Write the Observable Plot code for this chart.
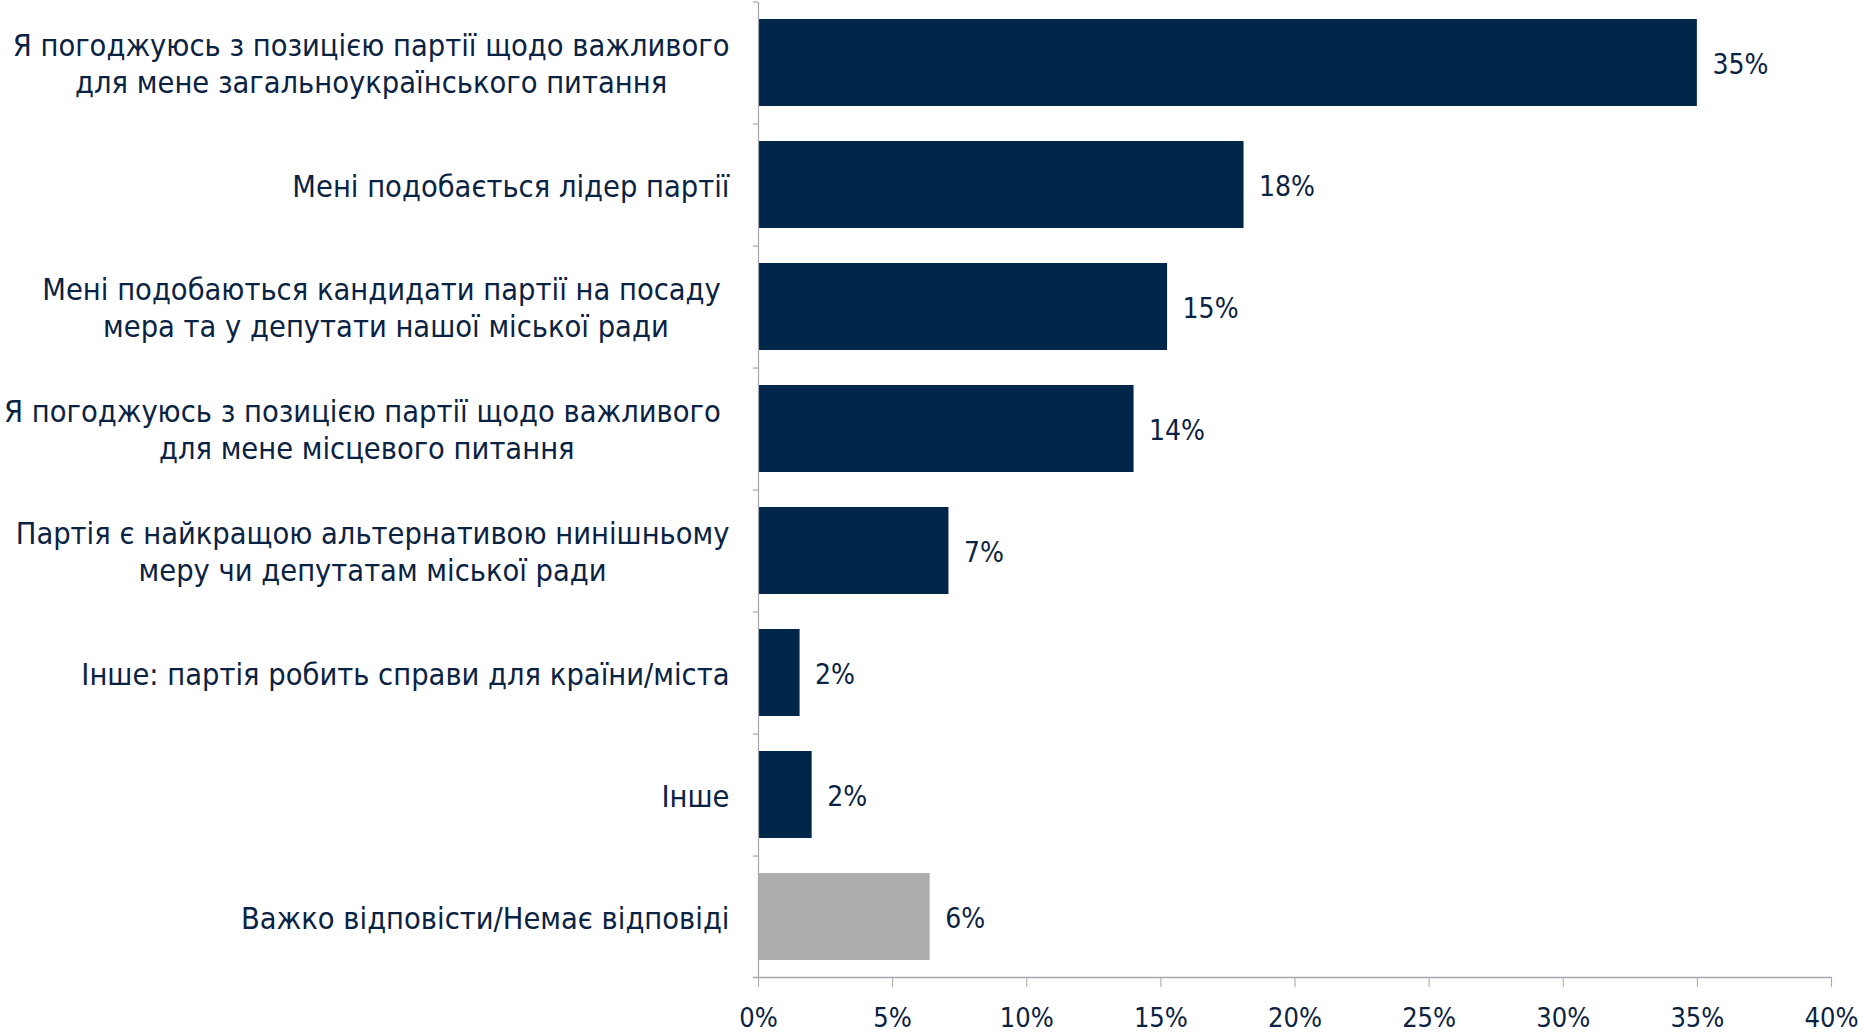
<!DOCTYPE html>
<html>
<head>
<meta charset="utf-8">
<script src="https://cdn.jsdelivr.net/npm/d3@7"></script>
<script src="https://cdn.jsdelivr.net/npm/@observablehq/plot@0.6"></script>
<style>
  html, body { margin: 0; padding: 0; background: #fff; }
  #chart svg { display: block; }
</style>
</head>
<body>
<div id="chart"></div>
<script>
const categories = [
  "Я погоджуюсь з позицією партії щодо важливого\nдля мене загальноукраїнського питання",
  "Мені подобається лідер партії",
  "Мені подобаються кандидати партії на посаду \nмера та у депутати нашої міської ради",
  "Я погоджуюсь з позицією партії щодо важливого \nдля мене місцевого питання",
  "Партія є найкращою альтернативою нинішньому\nмеру чи депутатам міської ради",
  "Інше: партія робить справи для країни/міста",
  "Інше",
  "Важко відповісти/Немає відповіді"
];
const values = [35.0, 18.1, 15.25, 14.0, 7.1, 1.55, 2.0, 6.4];
const valueLabels = ["35%", "18%", "15%", "14%", "7%", "2%", "2%", "6%"];
const xTicks = [0, 5, 10, 15, 20, 25, 30, 35, 40];
const grayCategory = "Важко відповісти/Немає відповіді";

const data = categories.map((c, i) => ({label: c, value: values[i], text: valueLabels[i]}));

const W = 1858, H = 1033;
const mTop = 2, mBottom = 56, mLeft = 758, mRight = 27;
const step = (H - mTop - mBottom) / categories.length;
const navy = "#002649";
const textColor = "#0B2343";
const axisColor = "#A6A6AE";
const font = "'DejaVu Sans Condensed', 'DejaVu Sans', sans-serif";

const plot = Plot.plot({
  width: W,
  height: H,
  marginTop: mTop,
  marginBottom: mBottom,
  marginLeft: mLeft,
  marginRight: mRight,
  style: {fontFamily: font, fontSize: "27px", color: textColor, background: "#fff"},
  x: {domain: [0, 40], ticks: xTicks, label: null},
  y: {domain: categories, paddingInner: 0.29, paddingOuter: 0.14, label: null},
  marks: [
    Plot.barX(data, {
      x: "value", y: "label",
      fill: d => d.label === grayCategory ? "#ADADAD" : navy
    }),
    Plot.text(data, {
      x: "value", y: "label", text: "text",
      textAnchor: "start", dx: 15, dy: 2, fill: textColor, fontSize: 28
    }),
    Plot.ruleX([0], {stroke: axisColor, strokeWidth: 1.2}),
    Plot.ruleY(categories, {y: d => d, x1: -0.19, x2: 0, dy: -step / 2, stroke: axisColor, strokeWidth: 1.2}),
    Plot.frame({anchor: "bottom", stroke: axisColor, strokeWidth: 1.5, insetLeft: -5}),
    Plot.axisX({
      ticks: xTicks, tickFormat: d => d + "%", tickSize: 10, tickPadding: 20,
      stroke: axisColor, fill: textColor, fontSize: 27, label: null
    }),
    Plot.axisY({
      tickSize: 0, tickPadding: 29, fill: textColor, fontSize: 30.5,
      lineHeight: 1.2, label: null, textAnchor: "end"
    })
  ]
});

document.getElementById("chart").appendChild(plot);

// Center the lines of multi-line category labels within their right-aligned block
const yAxisTexts = plot.querySelectorAll("g[aria-label='y-axis tick label'] text");
yAxisTexts.forEach(t => {
  t.style.whiteSpace = "pre";
  const spans = t.querySelectorAll("tspan");
  if (spans.length > 1) {
    const widths = Array.from(spans, s => s.getComputedTextLength());
    const maxW = Math.max(...widths);
    t.setAttribute("text-anchor", "middle");
    spans.forEach(s => s.setAttribute("x", -maxW / 2));
  }
});
</script>
</body>
</html>
